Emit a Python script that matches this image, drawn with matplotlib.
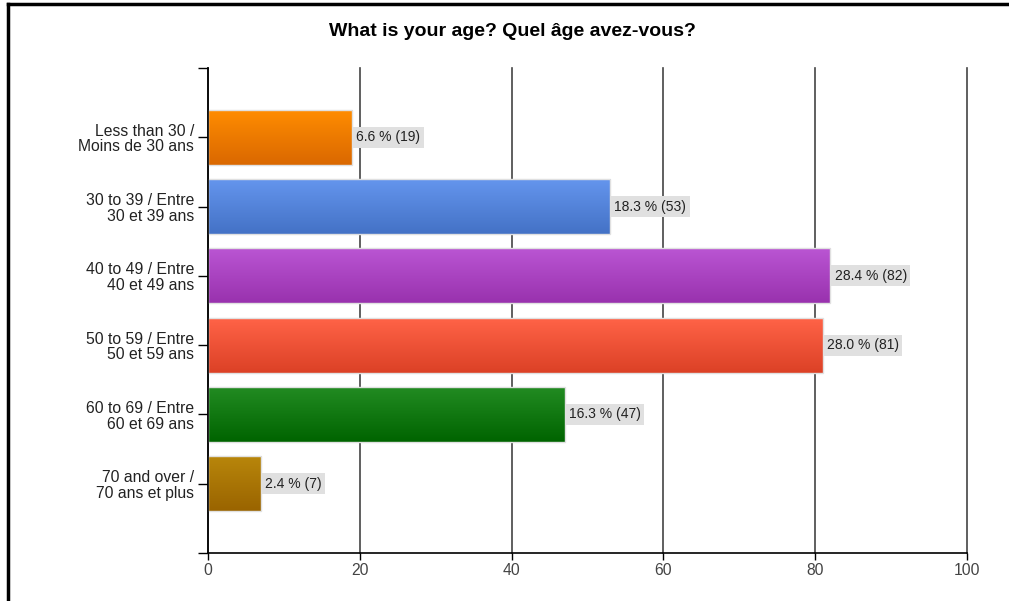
import numpy as np
import matplotlib.pyplot as plt
from matplotlib.colors import LinearSegmentedColormap
from matplotlib.patches import Rectangle

plt.rcParams['font.family'] = ['Liberation Sans', 'DejaVu Sans']

categories = ['Less than 30 /\nMoins de 30 ans',
              '30 to 39 / Entre\n30 et 39 ans',
              '40 to 49 / Entre\n40 et 49 ans',
              '50 to 59 / Entre\n50 et 59 ans',
              '60 to 69 / Entre\n60 et 69 ans',
              '70 and over /\n70 ans et plus']
counts = [19, 53, 82, 81, 47, 7]
percents = [6.6, 18.3, 28.4, 28.0, 16.3, 2.4]
# top / bottom colours of the gradients
top_colors = ['#ff8c00', '#6495ed', '#ba55d3', '#ff6347', '#228b22', '#b8860b']
bot_colors = ['#da6800', '#4472c6', '#9932ae', '#dc4126', '#006400', '#9a6400']

fig = plt.figure(figsize=(10.09, 6.01), dpi=100)
ax = fig.add_axes([208/1009, 48/601, 759/1009, 485/601])

# border round the picture (left and top only visible)
fig.add_artist(plt.Line2D([8/1009, 8/1009], [0, 1-4/601], color='black', lw=2.5, transform=fig.transFigure))
fig.add_artist(plt.Line2D([8/1009, 1], [1-4/601, 1-4/601], color='black', lw=2.5, transform=fig.transFigure))

ypos = np.arange(1, len(categories)+1)
h = 0.79
for i, (y, v) in enumerate(zip(ypos, counts)):
    cmap = LinearSegmentedColormap.from_list('g%d' % i, [top_colors[i], bot_colors[i]])
    grad = np.linspace(0, 1, 64).reshape(-1, 1)
    ax.imshow(grad, cmap=cmap, aspect='auto', extent=(0, v, y+h/2, y-h/2), origin='upper', zorder=3)
    ax.add_patch(Rectangle((0, y-h/2), v, h, fill=False, edgecolor='#e0e0e0', lw=1, zorder=4))
    ax.annotate('%.1f %% (%d)' % (percents[i], v), (v, y), xytext=(3, 0), textcoords='offset points',
                va='center', ha='left', fontsize=10, color='#222222', zorder=5,
                bbox=dict(boxstyle='square,pad=0.25', fc='#e0e0e0', ec='none'))

ax.set_xlim(0, 100)
ax.set_ylim(7, 0)
ax.set_yticks([0] + list(ypos) + [7])
ax.set_yticklabels([''] + categories + [''], fontsize=11.3, color='#222222', linespacing=1.05)
ax.set_xticks([0, 20, 40, 60, 80, 100])
ax.tick_params(axis='x', labelsize=11.3, labelcolor='#444444', length=5, width=1, direction='out', pad=2)
ax.tick_params(axis='y', length=7, width=1, direction='out', pad=3)
ax.grid(axis='x', color='#444444', lw=1.2, zorder=1)
for gl in ax.get_xgridlines():
    gl.set_clip_on(False)
ax.set_axisbelow(True)
for s in ['top', 'right']:
    ax.spines[s].set_visible(False)
ax.spines['left'].set_linewidth(1.2)
ax.spines['bottom'].set_linewidth(1.2)
ax.spines['left'].set_zorder(6)

fig.text(512/1009, 1-31/601, 'What is your age? Quel âge avez-vous?', ha='center', va='center',
         fontsize=14, fontweight='bold')

fig.savefig('out.png', dpi=100)
